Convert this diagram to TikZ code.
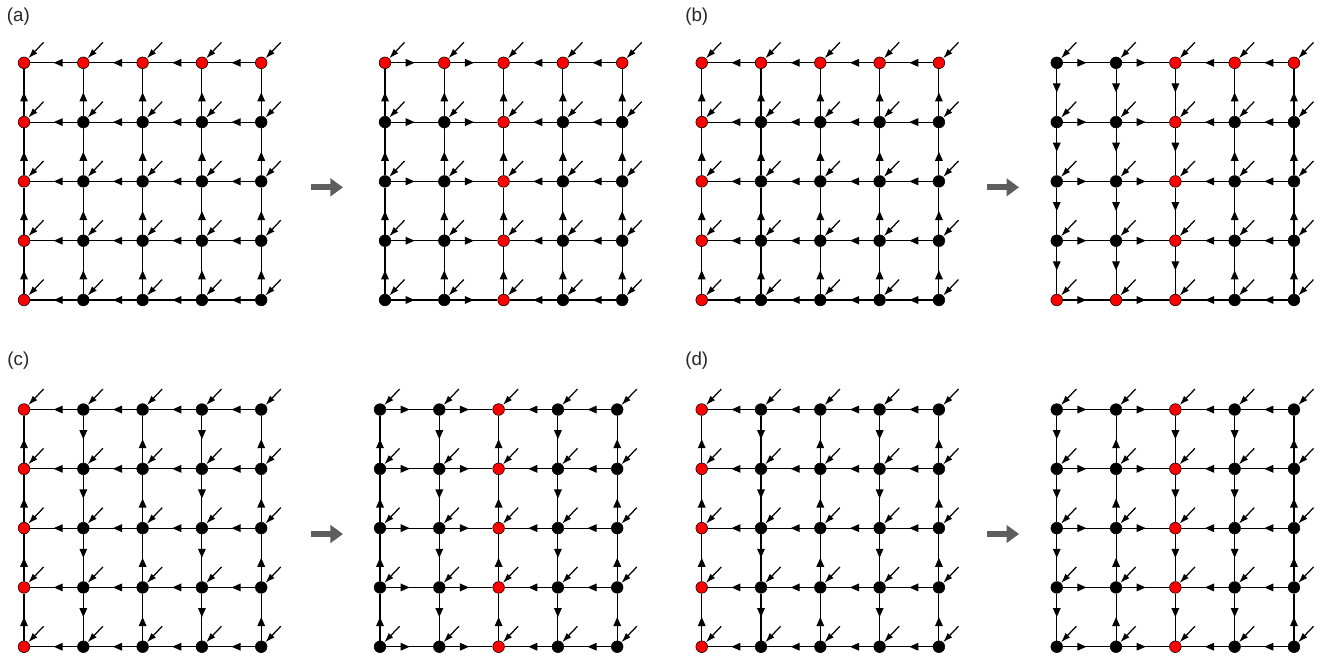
\documentclass[tikz,border=0pt]{standalone}
\usepackage{fontspec}
\setmainfont{Liberation Sans}
\usepackage{tikz}
\usetikzlibrary{arrows.meta,decorations.markings}

% one 5x5 lattice: #1 name, #2 red test, #3 right test, #4 up test (in \i,\j)
\newcommand{\lattice}[4]{%
  \foreach \i in {0,...,4}{
    \foreach \j in {0,...,4}{
      \pgfmathtruncatemacro{\hot}{#2}
      \ifnum\hot=1 \def\sitecol{red}\else\def\sitecol{black}\fi
      \node[site, fill=\sitecol] (#1-\i-\j) at (\i,\j) {};
      \coordinate (#1-\i-\j-in) at ([shift={(0.33,0.345)}]#1-\i-\j.center);
      \draw[feed] (#1-\i-\j-in) -- (#1-\i-\j);
    }
  }
  %% horizontal links
  \foreach \i in {0,...,3}{
    \foreach \j in {0,...,4}{
      \pgfmathtruncatemacro{\nx}{\i+1}
      \pgfmathtruncatemacro{\fwd}{#3}
      \ifnum\fwd=1 \draw[link] (#1-\i-\j) -- (#1-\nx-\j);
      \else \draw[link] (#1-\nx-\j) -- (#1-\i-\j); \fi
    }
  }
  %% vertical links
  \foreach \i in {0,...,4}{
    \foreach \j in {0,...,3}{
      \pgfmathtruncatemacro{\ny}{\j+1}
      \pgfmathtruncatemacro{\fwd}{#4}
      \ifnum\fwd=1 \draw[link] (#1-\i-\j) -- (#1-\i-\ny);
      \else \draw[link] (#1-\i-\ny) -- (#1-\i-\j); \fi
    }
  }
}

\begin{document}
\begin{tikzpicture}[
    x=1.5cm, y=1.5cm,
    site/.style={circle, draw, inner sep=0pt, minimum size=8.4pt, line width=0.4pt},
    link/.style={line width=0.8pt, postaction={decorate},
      decoration={markings, mark=at position 0.5 with {\arrow{Triangle[length=6.5pt,width=5.5pt]}}}},
    feed/.style={line width=0.9pt, -{Latex[length=7pt,width=4.6pt]}},
    flow/.style={line width=4.3pt, black!63, -{Triangle[length=9pt,width=12.5pt]}},
    tag/.style={font=\fontsize{13.5}{15}\selectfont, black!85}
  ]
  \useasboundingbox (0,0) rectangle (22.428,-11.197);

  %% ---- labels ----
  \node[tag] (lab-a) at (0.309,-0.275) {(a)};
  \node[tag] (lab-b) at (11.749,-0.275) {(b)};
  \node[tag] (lab-c) at (0.309,-6.088) {(c)};
  \node[tag] (lab-d) at (11.749,-6.088) {(d)};

  %% ---- (a) ----
  \begin{scope}[shift={(0.405,-5.059)}]
    \lattice{aL}{\i==0 || \j==4}{0}{1}
  \end{scope}
  \begin{scope}[shift={(6.492,-5.059)}]
    \lattice{aR}{\i==2 || \j==4}{\i<2}{1}
  \end{scope}
  \coordinate (a-go) at (5.245,-3.159);
  \coordinate (a-end) at (5.784,-3.159);
  \draw[flow] (a-go) -- (a-end);

  %% ---- (b) ----
  \begin{scope}[shift={(11.833,-5.059)}]
    \lattice{bL}{\i==0 || \j==4}{0}{1}
  \end{scope}
  \begin{scope}[shift={(17.820,-5.059)}]
    \lattice{bR}{\i==2 || (\j==4 && \i>1) || (\j==0 && \i<3)}{\i<2}{\i>2}
  \end{scope}
  \coordinate (b-go) at (16.644,-3.159);
  \coordinate (b-end) at (17.184,-3.159);
  \draw[flow] (b-go) -- (b-end);

  %% ---- (c) ----
  \begin{scope}[shift={(0.405,-10.906)}]
    \lattice{cL}{\i==0}{0}{mod(\i,2)==0}
  \end{scope}
  \begin{scope}[shift={(6.408,-10.906)}]
    \lattice{cR}{\i==2}{\i<2}{mod(\i,2)==0}
  \end{scope}
  \coordinate (c-go) at (5.245,-9.005);
  \coordinate (c-end) at (5.784,-9.005);
  \draw[flow] (c-go) -- (c-end);

  %% ---- (d) ----
  \begin{scope}[shift={(11.833,-10.906)}]
    \lattice{dL}{\i==0}{0}{mod(\i,2)==0}
  \end{scope}
  \begin{scope}[shift={(17.820,-10.906)}]
    \lattice{dR}{\i==2}{\i<2}{\i==1 || \i==4}
  \end{scope}
  \coordinate (d-go) at (16.644,-9.005);
  \coordinate (d-end) at (17.184,-9.005);
  \draw[flow] (d-go) -- (d-end);

\end{tikzpicture}
\end{document}
